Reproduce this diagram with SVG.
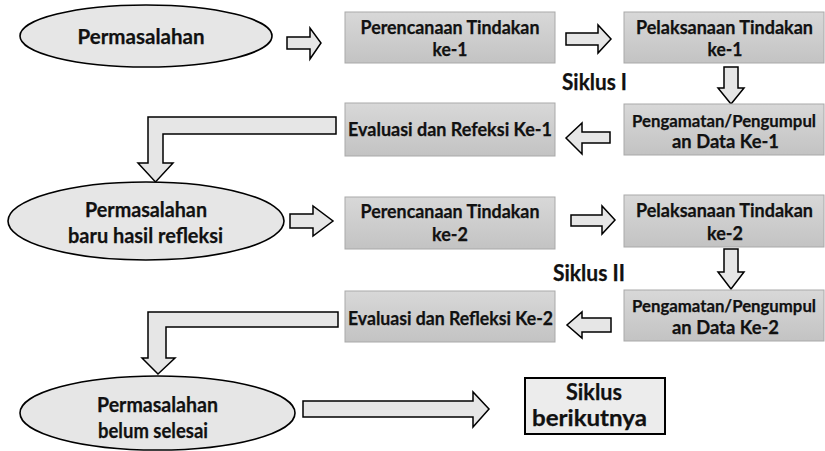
<svg xmlns="http://www.w3.org/2000/svg" width="825" height="451" viewBox="0 0 825 451">
<defs>
<linearGradient id="boxg" x1="0" y1="0" x2="0" y2="1">
<stop offset="0" stop-color="#d8d8d8"/>
<stop offset="1" stop-color="#c3c3c3"/>
</linearGradient>
</defs>
<style>
.box{fill:url(#boxg);stroke:#a9a9a9;stroke-width:1}
.ell{fill:#e6e6e6;stroke:#000;stroke-width:1.6}
.arr{fill:#e6e6e6;stroke:#000;stroke-width:1.5;stroke-linejoin:miter}
.nb{fill:#ececec;stroke:#000;stroke-width:2}
text{font-family:Lato,"Liberation Sans",sans-serif;font-weight:bold;fill:#111;stroke:#111;stroke-width:0.25;text-anchor:middle}
.t{font-size:18.5px}
.p{font-size:17.5px}
.e{font-size:21px}
.s{font-size:22px}
.b{font-size:22px}
</style>
<rect width="825" height="451" fill="#fff"/>

<g id="connectors">
<path class="arr" d="M287,37 L310,37 L310,28 L321,43 L310,59 L310,49 L287,49 Z"/>
<path class="arr" d="M566,33 L598,33 L598,25 L611,39 L598,53 L598,45 L566,45 Z"/>
<path class="arr" d="M724,67 L738,67 L738,88 L744,88 L731,104 L718,88 L724,88 Z"/>
<path class="arr" d="M610,132 L582,132 L582,123 L566,138 L582,154 L582,143 L610,143 Z"/>
<path class="arr" d="M336,117 L148,117 L148,163 L138,163 L155.5,182 L173,163 L163,163 L163,134 L336,134 Z"/>
<path class="arr" d="M290,214 L313,214 L313,206 L333,221 L313,236 L313,228 L290,228 Z"/>
<path class="arr" d="M571,215 L602,215 L602,206 L615,220 L602,234 L602,226 L571,226 Z"/>
<path class="arr" d="M724,249 L738,249 L738,272 L744,272 L731,289 L718,272 L724,272 Z"/>
<path class="arr" d="M611,318 L582,318 L582,312 L567,325 L582,338 L582,332 L611,332 Z"/>
<path class="arr" d="M338,312 L148,312 L148,358 L142,358 L158,374 L175,358 L166,358 L166,327 L338,327 Z"/>
<path class="arr" d="M303,401 L473,401 L473,392 L489,409 L473,427 L473,417 L303,417 Z"/>
</g>

<g id="n-permasalahan">
<ellipse class="ell" cx="146" cy="36" rx="126" ry="31"/>
<text class="e" x="141" y="44" textLength="127" lengthAdjust="spacingAndGlyphs">Permasalahan</text>
</g>

<g id="n-perencanaan1">
<rect class="box" x="345" y="12" width="210" height="51"/>
<text class="t" x="450" y="34" textLength="179" lengthAdjust="spacingAndGlyphs">Perencanaan Tindakan</text>
<text class="t" x="450" y="56" textLength="35" lengthAdjust="spacingAndGlyphs">ke-1</text>
</g>

<g id="n-pelaksanaan1">
<rect class="box" x="624" y="12" width="200" height="51"/>
<text class="t" x="724.5" y="34" textLength="177" lengthAdjust="spacingAndGlyphs">Pelaksanaan Tindakan</text>
<text class="t" x="725" y="56" textLength="35" lengthAdjust="spacingAndGlyphs">ke-1</text>
</g>

<g id="l-siklus1">
<text class="s" x="594.5" y="90" textLength="65" lengthAdjust="spacingAndGlyphs">Siklus I</text>
</g>

<g id="n-evaluasi1">
<rect class="box" x="345" y="103" width="210" height="53"/>
<text class="t" x="450" y="136" textLength="204" lengthAdjust="spacingAndGlyphs">Evaluasi dan Refeksi Ke-1</text>
</g>

<g id="n-pengamatan1">
<rect class="box" x="624" y="104" width="200" height="51"/>
<text class="p" x="724" y="127" textLength="184" lengthAdjust="spacingAndGlyphs">Pengamatan/Pengumpul</text>
<text class="t" x="725.5" y="148" textLength="107" lengthAdjust="spacingAndGlyphs">an Data Ke-1</text>
</g>

<g id="n-permasalahan-baru">
<ellipse class="ell" cx="146" cy="221" rx="138" ry="39"/>
<text class="e" x="146" y="217" textLength="122" lengthAdjust="spacingAndGlyphs">Permasalahan</text>
<text class="e" x="145.5" y="243" textLength="155" lengthAdjust="spacingAndGlyphs">baru hasil refleksi</text>
</g>

<g id="n-perencanaan2">
<rect class="box" x="345" y="197" width="210" height="52"/>
<text class="t" x="450" y="218" textLength="179" lengthAdjust="spacingAndGlyphs">Perencanaan Tindakan</text>
<text class="t" x="450" y="241" textLength="36" lengthAdjust="spacingAndGlyphs">ke-2</text>
</g>

<g id="n-pelaksanaan2">
<rect class="box" x="624" y="195" width="200" height="52"/>
<text class="t" x="724.5" y="217" textLength="177" lengthAdjust="spacingAndGlyphs">Pelaksanaan Tindakan</text>
<text class="t" x="725" y="240" textLength="36" lengthAdjust="spacingAndGlyphs">ke-2</text>
</g>

<g id="l-siklus2">
<text class="s" x="589" y="281" textLength="72" lengthAdjust="spacingAndGlyphs">Siklus II</text>
</g>

<g id="n-evaluasi2">
<rect class="box" x="345" y="291" width="210" height="51"/>
<text class="t" x="450.5" y="325" textLength="205" lengthAdjust="spacingAndGlyphs">Evaluasi dan Refleksi Ke-2</text>
</g>

<g id="n-pengamatan2">
<rect class="box" x="624" y="290" width="200" height="51"/>
<text class="p" x="724" y="312" textLength="184" lengthAdjust="spacingAndGlyphs">Pengamatan/Pengumpul</text>
<text class="t" x="725.5" y="334" textLength="107" lengthAdjust="spacingAndGlyphs">an Data Ke-2</text>
</g>

<g id="n-permasalahan-belum">
<ellipse class="ell" cx="157.5" cy="413" rx="137.5" ry="37"/>
<text class="e" x="157.5" y="412" textLength="121" lengthAdjust="spacingAndGlyphs">Permasalahan</text>
<text class="e" x="153" y="438" textLength="110" lengthAdjust="spacingAndGlyphs">belum selesai</text>
</g>

<g id="n-siklus-berikutnya">
<rect class="nb" x="525" y="378" width="140" height="56"/>
<text class="b" x="594" y="400" textLength="56" lengthAdjust="spacingAndGlyphs">Siklus</text>
<text class="b" x="589.5" y="426" textLength="115" lengthAdjust="spacingAndGlyphs">berikutnya</text>
</g>
</svg>
